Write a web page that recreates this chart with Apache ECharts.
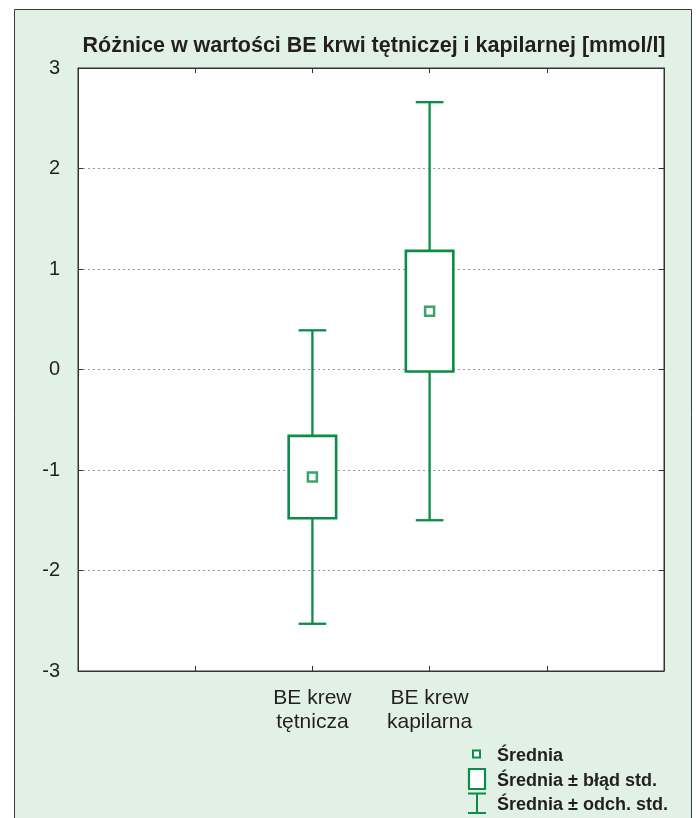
<!DOCTYPE html>
<html>
<head>
<meta charset="utf-8">
<style>html,body{margin:0;padding:0;background:#fff;}#c{width:696px;height:818px;}</style>
<script src="https://cdn.jsdelivr.net/npm/echarts@6/dist/echarts.min.js"></script>
</head>
<body>
<div id="c"></div>
<script>
const titleText = 'Różnice w wartości BE krwi tętniczej i kapilarnej [mmol/l]';
const categories = ['BE krew\ntętnicza', 'BE krew\nkapilarna'];
const positions = [2, 3];            // slot of each category on the 0..5 x scale
const means  = [-1.07, 0.58];
const seLow  = [-1.48, -0.02];
const seHigh = [-0.66, 1.18];
const sdLow  = [-2.53, -1.50];
const sdHigh = [0.39, 2.66];
const yTicks = [-3, -2, -1, 0, 1, 2, 3];
const legendNames = ['Średnia', 'Średnia ± błąd std.', 'Średnia ± odch. std.'];

const GREEN = '#0b8c47';
const TXT = '#231f20';
const FONT = 'Liberation Sans, Arial, sans-serif';

const chart = echarts.init(document.getElementById('c'), null, {renderer: 'canvas'});

const boxData = positions.map((p, i) => [p, seLow[i], seHigh[i]]);
const whiskData = positions.map((p, i) => [p, sdLow[i], sdHigh[i]]);
const meanData = positions.map((p, i) => [p, means[i]]);

const labelMap = {};
positions.forEach((p, i) => labelMap[p] = categories[i]);

function axisBase(extra) {
  return Object.assign({
    axisLine: {show: true, onZero: false, lineStyle: {color: '#333', width: 1}},
    axisTick: {show: true, inside: true, length: 5, lineStyle: {color: '#333'}},
    splitLine: {show: false}
  }, extra);
}

const option = {
  backgroundColor: '#fff',
  animation: false,
  title: {
    text: titleText,
    left: 369, top: 30, textAlign: 'center',
    textStyle: {fontFamily: FONT, fontWeight: 'bold', fontSize: 21.5, color: TXT}
  },
  graphic: [
    {type: 'rect', z: -100, shape: {x: 14.5, y: 9.5, width: 677, height: 840},
     style: {fill: '#e2f1e6', stroke: '#3a3a3a', lineWidth: 1}},
    // legend
    {type: 'rect', z: 100, shape: {x: 473, y: 750.5, width: 7, height: 7},
     style: {fill: '#fff', stroke: GREEN, lineWidth: 2}},
    {type: 'rect', z: 100, shape: {x: 469, y: 769, width: 16, height: 20},
     style: {fill: '#fff', stroke: GREEN, lineWidth: 2.2}},
    {type: 'group', z: 100, children: [
      {type: 'line', shape: {x1: 468, y1: 793.5, x2: 486, y2: 793.5}, style: {stroke: GREEN, lineWidth: 2}},
      {type: 'line', shape: {x1: 477, y1: 793.5, x2: 477, y2: 813}, style: {stroke: GREEN, lineWidth: 2}},
      {type: 'line', shape: {x1: 468, y1: 813, x2: 486, y2: 813}, style: {stroke: GREEN, lineWidth: 2}}
    ]},
    {type: 'text', z: 100, x: 497, y: 756, style: {text: legendNames[0], font: 'bold 18px ' + FONT, fill: TXT, verticalAlign: 'middle'}},
    {type: 'text', z: 100, x: 497, y: 781.5, style: {text: legendNames[1], font: 'bold 18px ' + FONT, fill: TXT, verticalAlign: 'middle'}},
    {type: 'text', z: 100, x: 497, y: 805.5, style: {text: legendNames[2], font: 'bold 18px ' + FONT, fill: TXT, verticalAlign: 'middle'}}
  ],
  grid: {
    left: 78, right: 32, top: 68, bottom: 147,
    show: true, backgroundColor: '#fff', borderColor: '#333', borderWidth: 1
  },
  xAxis: [axisBase({
    type: 'value', min: 0, max: 5, interval: 1, position: 'bottom',
    axisLabel: {
      formatter: v => labelMap[v] || '',
      fontFamily: FONT, fontSize: 21, color: TXT, lineHeight: 24, margin: 15
    }
  }), axisBase({
    type: 'value', min: 0, max: 5, interval: 1, position: 'top',
    axisLabel: {show: false}
  })],
  yAxis: [axisBase({
    type: 'value', min: yTicks[0], max: yTicks[yTicks.length - 1], interval: 1, position: 'left',
    splitLine: {show: true, lineStyle: {color: '#9a9a9a', type: [2, 3], width: 1}},
    axisLabel: {fontFamily: FONT, fontSize: 20, color: TXT, margin: 18}
  }), axisBase({
    type: 'value', min: yTicks[0], max: yTicks[yTicks.length - 1], interval: 1, position: 'right',
    axisLabel: {show: false}
  })],
  series: [
    {
      name: legendNames[2], type: 'custom', z: 2,
      data: whiskData,
      renderItem: (params, api) => {
        const x = api.value(0);
        const lo = api.coord([x, api.value(1)]);
        const hi = api.coord([x, api.value(2)]);
        const half = api.size([1, 0])[0] * 0.118;
        const st = {stroke: GREEN, lineWidth: 2.3};
        return {type: 'group', children: [
          {type: 'line', shape: {x1: lo[0], y1: lo[1], x2: hi[0], y2: hi[1]}, style: st},
          {type: 'line', shape: {x1: lo[0] - half, y1: lo[1], x2: lo[0] + half, y2: lo[1]}, style: st},
          {type: 'line', shape: {x1: hi[0] - half, y1: hi[1], x2: hi[0] + half, y2: hi[1]}, style: st}
        ]};
      }
    },
    {
      name: legendNames[1], type: 'custom', z: 3,
      data: boxData,
      renderItem: (params, api) => {
        const x = api.value(0);
        const lo = api.coord([x, api.value(1)]);
        const hi = api.coord([x, api.value(2)]);
        const w = api.size([1, 0])[0] * 0.405;
        return {type: 'rect', shape: {x: lo[0] - w / 2, y: hi[1], width: w, height: lo[1] - hi[1]},
                style: {fill: '#fff', stroke: GREEN, lineWidth: 2.6}};
      }
    },
    {
      name: legendNames[0], type: 'scatter', z: 4,
      data: meanData, symbol: 'rect', symbolSize: 9,
      itemStyle: {color: '#fff', borderColor: GREEN, borderWidth: 2.5}
    }
  ]
};
chart.setOption(option);
</script>
</body>
</html>
